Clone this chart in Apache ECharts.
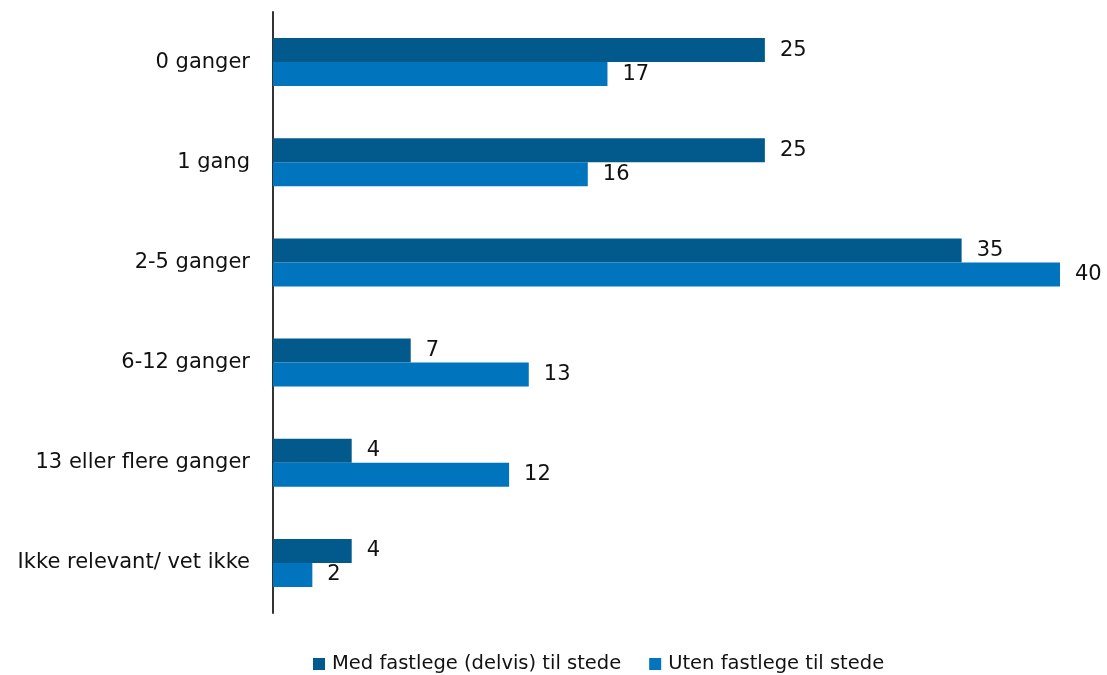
<!DOCTYPE html>
<html>
<head>
<meta charset="utf-8">
<script src="https://cdn.jsdelivr.net/npm/echarts@6/dist/echarts.min.js"></script>
<style>
  html, body { margin: 0; padding: 0; background: #fff; }
  #chart { width: 1107px; height: 675px; }
</style>
</head>
<body>
<div id="chart"></div>
<script>
// Antall ganger, fordelt på om fastlegen var til stede
const categories = ['0 ganger', '1 gang', '2-5 ganger', '6-12 ganger', '13 eller flere ganger', 'Ikke relevant/ vet ikke'];
const seriesNames = ['Med fastlege (delvis) til stede', 'Uten fastlege til stede'];
const medFastlege = [25, 25, 35, 7, 4, 4];
const utenFastlege = [17, 16, 40, 13, 12, 2];

const FONT = '"DejaVu Sans", sans-serif';
const colors = ['#02598C', '#0075BD'];

const chart = echarts.init(document.getElementById('chart'), null, { renderer: 'canvas' });

const labelStyle = {
  show: true,
  position: 'right',
  distance: 15,
  color: '#111',
  fontFamily: FONT,
  fontSize: 21
};

chart.setOption({
  animation: false,
  color: colors,
  grid: { left: 273, right: 47, top: 12, bottom: 62, containLabel: false },
  xAxis: {
    type: 'value',
    min: 0,
    max: 40,
    show: false
  },
  yAxis: {
    type: 'category',
    data: categories,
    inverse: true,
    axisLine: { show: true, lineStyle: { color: '#333', width: 2 } },
    axisTick: { show: false },
    axisLabel: {
      color: '#111',
      fontFamily: FONT,
      fontSize: 21,
      margin: 23
    },
    splitLine: { show: false }
  },
  legend: {
    top: 654,
    left: 313,
    padding: 0,
    icon: 'rect',
    itemWidth: 12,
    itemHeight: 12,
    itemGap: 28,
    textStyle: { color: '#111', fontFamily: FONT, fontSize: 19.5, padding: [0, 0, 0, 2] },
    data: seriesNames
  },
  series: [
    {
      name: seriesNames[0],
      type: 'bar',
      data: medFastlege,
      barWidth: 24,
      barGap: '0%',
      label: labelStyle
    },
    {
      name: seriesNames[1],
      type: 'bar',
      data: utenFastlege,
      barWidth: 24,
      barGap: '0%',
      label: labelStyle
    }
  ]
});
</script>
</body>
</html>
